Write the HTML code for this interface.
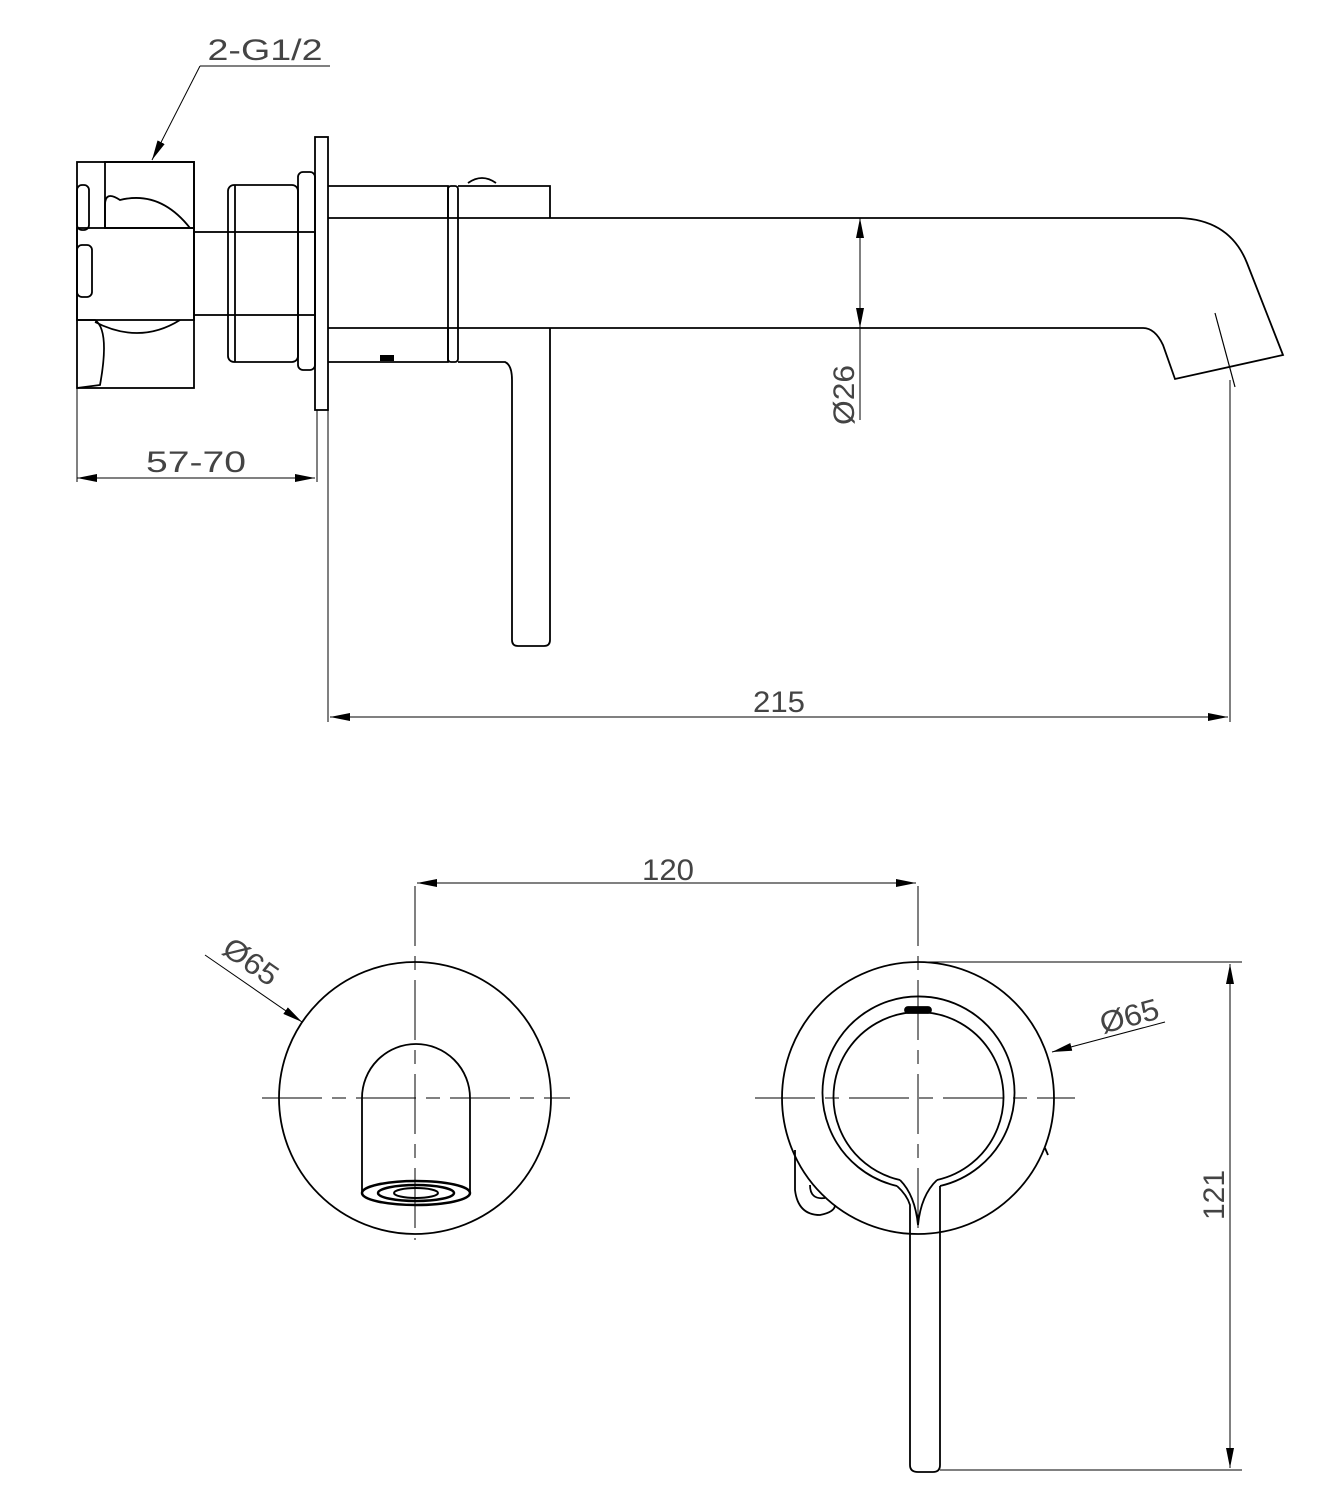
<!DOCTYPE html>
<html><head><meta charset="utf-8"><style>html,body{margin:0;padding:0;background:#fff}svg{display:block}</style></head>
<body>
<svg width="1342" height="1500" viewBox="0 0 1342 1500" xmlns="http://www.w3.org/2000/svg">
<defs>
<marker id="a" viewBox="0 0 20 8" refX="20" refY="4" markerWidth="20" markerHeight="8" markerUnits="userSpaceOnUse" orient="auto-start-reverse"><path d="M0,0 L20,4 L0,8 Z" fill="#000"/></marker>
</defs>
<g fill="none" stroke="#000" stroke-width="1.8">
<line x1="200" y1="66" x2="330" y2="66" stroke-width="1"/>
<line x1="200" y1="66" x2="152" y2="160" stroke-width="1" marker-end="url(#a)"/>
<rect x="77" y="162" width="117" height="226"/>
<rect x="105" y="162" width="89" height="66"/>
<rect x="77" y="228" width="117" height="92"/>
<path d="M105,228 L105,205 Q105,190 120,200 Q160,190 190,228"/>
<path d="M77,320 L95,320 Q110,330 100,385 L77,388"/>
<path d="M95,322 Q140,345 180,320"/>
<rect x="77" y="185" width="12" height="45" rx="5"/>
<rect x="77" y="245" width="15" height="52" rx="5"/>
<rect x="194" y="232" width="121" height="83"/>
<rect x="228" y="185" width="70" height="177" rx="6"/>
<line x1="235" y1="185" x2="235" y2="362"/>
<rect x="298" y="172" width="17" height="198" rx="5"/>
<rect x="315" y="137" width="13" height="273"/>
<line x1="317" y1="410" x2="317" y2="430" stroke-width="1"/>
<path d="M328,186 L448,186 L448,218"/>
<path d="M328,362 L448,362 L448,328"/>
<rect x="448" y="186" width="10" height="176" rx="3"/>
<path d="M458,186 L550,186 L550,218"/>
<path d="M468,183 Q482,173 496,183" />
<path d="M458,362 L505,362 Q512,365 512,380"/>
<rect x="380" y="355" width="14" height="6" fill="#000" stroke="none"/>
<path d="M328,218 L1180,218 Q1230,220 1247,263 L1283,355 L1175,379 L1163,345 Q1155,328 1143,328 L328,328"/>
<line x1="1215" y1="313" x2="1235" y2="387" stroke-width="1.2"/>
<path d="M512,380 L512,640 Q512,646 518,646 L544,646 Q550,646 550,640 L550,328"/>
<g stroke-width="1">
<line x1="77" y1="388" x2="77" y2="482"/>
<line x1="317" y1="430" x2="317" y2="482"/>
<line x1="77" y1="478" x2="315" y2="478" marker-start="url(#a)" marker-end="url(#a)"/>
<line x1="860" y1="218" x2="860" y2="328" marker-start="url(#a)" marker-end="url(#a)"/>
<line x1="860" y1="328" x2="860" y2="420"/>
<line x1="328" y1="410" x2="328" y2="722"/>
<line x1="1230" y1="380" x2="1230" y2="722"/>
<line x1="330" y1="717" x2="1228" y2="717" marker-start="url(#a)" marker-end="url(#a)"/>
</g>
</g>
<g font-family="'Liberation Sans',sans-serif" font-size="30" fill="#444" stroke="none" text-anchor="middle">
<text x="265" y="60" textLength="115" lengthAdjust="spacingAndGlyphs">2-G1/2</text>
<text x="196" y="472" textLength="100" lengthAdjust="spacingAndGlyphs">57-70</text>
<text transform="translate(854,395) rotate(-90)" textLength="60" lengthAdjust="spacingAndGlyphs">Ø26</text>
<text x="779" y="712" textLength="52" lengthAdjust="spacingAndGlyphs">215</text>
<text x="668" y="880" textLength="52" lengthAdjust="spacingAndGlyphs">120</text>
<text transform="translate(245,970) rotate(35)" textLength="60" lengthAdjust="spacingAndGlyphs">Ø65</text>
<text transform="translate(1132,1026) rotate(-15)" textLength="60" lengthAdjust="spacingAndGlyphs">Ø65</text>
<text transform="translate(1224,1195) rotate(-90)" textLength="50" lengthAdjust="spacingAndGlyphs">121</text>
</g>
<g fill="none" stroke="#000" stroke-width="1.8">
<circle cx="415" cy="1098" r="136"/>
<path d="M362,1193 L362,1098 A54,54 0 0 1 470,1098 L470,1193"/>
<ellipse cx="416" cy="1193" rx="54" ry="12" stroke-width="2.5"/>
<ellipse cx="416" cy="1193" rx="38" ry="8" stroke-width="2.5"/>
<ellipse cx="416" cy="1193" rx="22" ry="5" stroke-width="2"/>
<circle cx="918" cy="1098" r="136"/>
<path d="M897,1186 A96,96 0 1 1 940,1186"/>
<path d="M900,1180 A85,85 0 1 1 937,1180"/>
<path d="M897,1186 Q907,1195 910,1205 L910,1465 Q910,1472 918,1472 L933,1472 Q940,1472 940,1465 L940,1186"/>
<path d="M900,1180 Q915,1195 918,1225 Q921,1195 937,1180"/>
<rect x="905" y="1007" width="26" height="6" rx="3" fill="#000"/>
<path d="M795,1150 L795,1190 Q798,1215 820,1215 Q835,1212 835,1205"/>
<path d="M810,1185 Q810,1200 825,1198"/>
<path d="M1045,1148 L1048,1155"/>
<g stroke-width="1">
<line x1="262" y1="1098" x2="570" y2="1098" stroke-dasharray="60,10,14,10"/>
<line x1="415" y1="886" x2="415" y2="1240" stroke-dasharray="60,10,14,10"/>
<line x1="755" y1="1098" x2="1075" y2="1098" stroke-dasharray="60,10,14,10"/>
<line x1="918" y1="886" x2="918" y2="1235" stroke-dasharray="60,10,14,10"/>
<line x1="417" y1="883" x2="916" y2="883" marker-start="url(#a)" marker-end="url(#a)"/>
<line x1="205" y1="955" x2="302" y2="1022" marker-end="url(#a)"/>
<line x1="1165" y1="1022" x2="1052" y2="1052" marker-end="url(#a)"/>
<line x1="918" y1="962" x2="1242" y2="962"/>
<line x1="940" y1="1470" x2="1242" y2="1470"/>
<line x1="1230" y1="964" x2="1230" y2="1468" marker-start="url(#a)" marker-end="url(#a)"/>
</g>
</g>
</svg>
</body></html>
